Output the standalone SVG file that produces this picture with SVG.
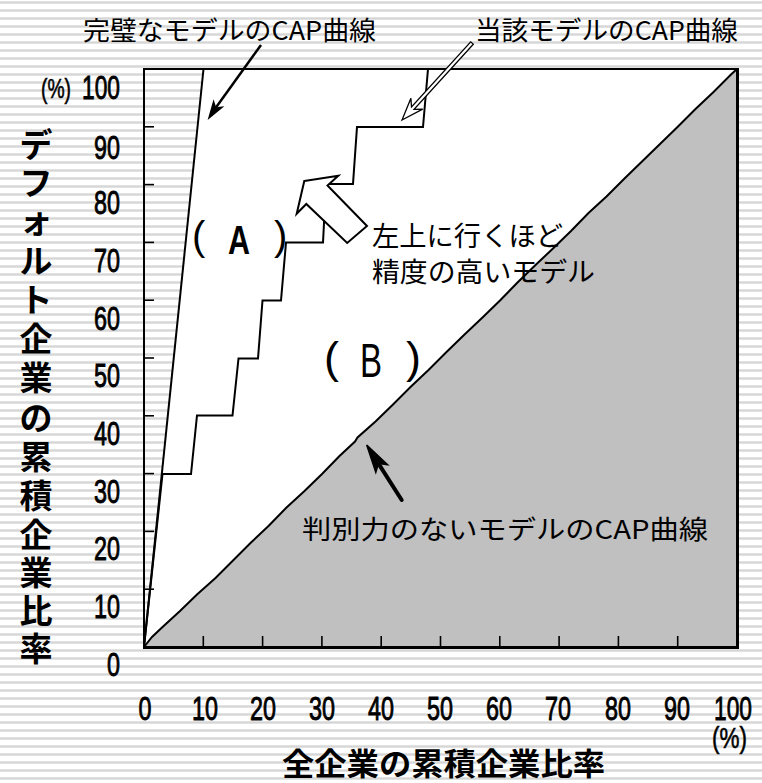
<svg xmlns="http://www.w3.org/2000/svg" width="762" height="783" viewBox="0 0 762 783">
<defs>
<pattern id="stripes" patternUnits="userSpaceOnUse" x="0" y="0" width="8" height="8">
<rect x="0" y="0" width="8" height="8" fill="#ffffff"/>
<rect x="0" y="1" width="8" height="3" fill="#e2e2e2"/>
<rect x="0" y="2" width="8" height="1" fill="#d6d6d6"/>
</pattern>
</defs>
<style>
.jp{font-family:"Noto Sans CJK JP","Noto Sans",sans-serif;fill:#000}
.num{font-family:"Liberation Sans",Arial,sans-serif;fill:#000;font-size:34px;stroke:#000;stroke-width:0.9}
.pct{font-family:"Liberation Sans",Arial,sans-serif;fill:#000;stroke:#000;stroke-width:0.6}
.ln{fill:none;stroke:#000;stroke-width:2;stroke-linejoin:miter}
.tick{stroke:#000;stroke-width:1.6}
</style>
<rect id="background" x="0" y="0" width="762" height="783" fill="url(#stripes)"/>

<g id="plot-area">
<polygon id="white-region" points="144,647 203.5,69 737,69 737,647" fill="#ffffff"/>
<polygon id="region-below-random" fill="#c0c0c0" points="144,647 152,637 162,627.5 180,611 197,594.5 215.5,578 233,560.5 251,542.5 268.5,526 286,508 304.5,491 322,474 339.5,456 355,441.5 357.5,437.5 375.5,421.5 393,404.5 411,386.5 428.5,370 446.5,352 464,335 482.5,317.5 500,300.5 517.5,282.5 535,265.5 553.5,248 571,231 588.5,213 606.5,196.5 624.5,178.5 642,161.5 660,144 677.5,127 695.5,109 713,92.5 731,74.5 737,69 737,647"/>
</g>

<g id="random-model-curve">
<polyline class="ln" points="144,647 152,637 162,627.5 180,611 197,594.5 215.5,578 233,560.5 251,542.5 268.5,526 286,508 304.5,491 322,474 339.5,456 355,441.5 357.5,437.5 375.5,421.5 393,404.5 411,386.5 428.5,370 446.5,352 464,335 482.5,317.5 500,300.5 517.5,282.5 535,265.5 553.5,248 571,231 588.5,213 606.5,196.5 624.5,178.5 642,161.5 660,144 677.5,127 695.5,109 713,92.5 731,74.5 737,69"/>
</g>

<g id="ticks">
<line class="tick" x1="203.3" y1="647" x2="203.3" y2="636"/>
<line class="tick" x1="262.6" y1="647" x2="262.6" y2="636"/>
<line class="tick" x1="321.9" y1="647" x2="321.9" y2="636"/>
<line class="tick" x1="381.2" y1="647" x2="381.2" y2="636"/>
<line class="tick" x1="440.5" y1="647" x2="440.5" y2="636"/>
<line class="tick" x1="499.8" y1="647" x2="499.8" y2="636"/>
<line class="tick" x1="559.1" y1="647" x2="559.1" y2="636"/>
<line class="tick" x1="618.4" y1="647" x2="618.4" y2="636"/>
<line class="tick" x1="677.7" y1="647" x2="677.7" y2="636"/>
<line class="tick" x1="144" y1="589.2" x2="154" y2="589.2"/>
<line class="tick" x1="144" y1="531.4" x2="154" y2="531.4"/>
<line class="tick" x1="144" y1="473.6" x2="154" y2="473.6"/>
<line class="tick" x1="144" y1="415.8" x2="154" y2="415.8"/>
<line class="tick" x1="144" y1="358" x2="154" y2="358"/>
<line class="tick" x1="144" y1="300.2" x2="154" y2="300.2"/>
<line class="tick" x1="144" y1="242.4" x2="154" y2="242.4"/>
<line class="tick" x1="144" y1="184.6" x2="154" y2="184.6"/>
<line class="tick" x1="144" y1="126.8" x2="154" y2="126.8"/>
</g>

<g id="frame">
<line x1="143" y1="69" x2="738" y2="69" stroke="#000" stroke-width="2"/>
<line x1="144" y1="68" x2="144" y2="648" stroke="#000" stroke-width="2"/>
<line x1="143" y1="647.5" x2="739" y2="647.5" stroke="#000" stroke-width="3"/>
<line x1="737.5" y1="68" x2="737.5" y2="649" stroke="#000" stroke-width="3"/>
</g>

<g id="perfect-model-curve">
<polyline class="ln" points="144,647 203.5,69"/>
</g>

<g id="current-model-curve">
<polyline class="ln" points="144,647 162.5,474 191,474 197,415.5 232.5,415.5 238.5,358.5 258,358.5 262.5,300.5 281,300.5 286,242.5 323,242.5 326,184 353,184 357,127 423,127 428,69"/>
</g>

<g id="connectors">
<g id="arrow-perfect">
<line x1="261" y1="45" x2="215.6" y2="108" stroke="#000" stroke-width="2.5"/>
<polygon points="209,118 222,107.3 215.6,108 213.6,101.9" fill="#000" stroke="#000" stroke-width="1.5" stroke-linejoin="miter"/>
</g>
<g id="arrow-current">
<polygon points="402,120 422.7,109.1 414.1,109.4 473.3,44.2 470.7,41.8 411.5,107 410.9,98.3" fill="#fff" stroke="#000" stroke-width="1.3" stroke-linejoin="miter"/>
</g>
<g id="arrow-random">
<line x1="401.7" y1="500" x2="378.5" y2="463.6" stroke="#000" stroke-width="4" stroke-linecap="round"/>
<polygon points="366.7,445 387.6,464.8 378.5,463.6 375.8,472.4" fill="#000" stroke="#000" stroke-width="1.5" stroke-linejoin="miter"/>
</g>
<g id="arrow-accuracy">
<polygon points="304.3,181 338.3,175.7 327.5,185.5 367,226 347.2,243 306.3,204 296.7,213.7" fill="#fff" stroke="#000" stroke-width="2" stroke-linejoin="miter"/>
</g>
</g>

<g id="label-perfect">
<text class="jp" x="83" y="40" font-size="26" textLength="293" lengthAdjust="spacingAndGlyphs">完璧なモデルのCAP曲線</text>
</g>
<g id="label-current">
<text class="jp" x="475" y="40" font-size="26" textLength="263" lengthAdjust="spacingAndGlyphs">当該モデルのCAP曲線</text>
</g>
<g id="label-accuracy">
<text class="jp" x="372" y="246" font-size="27" textLength="191" lengthAdjust="spacingAndGlyphs">左上に行くほど</text>
<text class="jp" x="372" y="282" font-size="27" textLength="223" lengthAdjust="spacingAndGlyphs">精度の高いモデル</text>
</g>
<g id="label-random">
<text class="jp" x="302" y="539" font-size="26" textLength="406" lengthAdjust="spacingAndGlyphs">判別力のないモデルのCAP曲線</text>
</g>

<g id="label-A">
<text font-family="Liberation Sans, Arial, sans-serif" fill="#000"><tspan x="192" y="250" font-size="40">(</tspan><tspan> </tspan><tspan x="228" y="254" font-size="40" font-weight="bold" textLength="22" lengthAdjust="spacingAndGlyphs">A</tspan><tspan> </tspan><tspan x="274" y="250" font-size="40">)</tspan></text>
</g>
<g id="label-B">
<text font-family="Liberation Sans, Arial, sans-serif" fill="#000"><tspan x="324" y="373" font-size="45">(</tspan><tspan> </tspan><tspan x="360" y="377" font-size="48" textLength="22" lengthAdjust="spacingAndGlyphs">B</tspan><tspan> </tspan><tspan x="406" y="373" font-size="45">)</tspan></text>
</g>

<g id="y-axis-labels">
<text class="pct" font-size="27" x="41" y="98" textLength="30" lengthAdjust="spacingAndGlyphs">(%)</text>
<text class="num" x="120" y="99" text-anchor="end" textLength="38" lengthAdjust="spacingAndGlyphs">100</text>
<text class="num" x="120" y="158.5" text-anchor="end" textLength="26" lengthAdjust="spacingAndGlyphs">90</text>
<text class="num" x="120" y="214" text-anchor="end" textLength="26" lengthAdjust="spacingAndGlyphs">80</text>
<text class="num" x="120" y="271.5" text-anchor="end" textLength="26" lengthAdjust="spacingAndGlyphs">70</text>
<text class="num" x="120" y="329.5" text-anchor="end" textLength="26" lengthAdjust="spacingAndGlyphs">60</text>
<text class="num" x="120" y="387" text-anchor="end" textLength="26" lengthAdjust="spacingAndGlyphs">50</text>
<text class="num" x="120" y="444.5" text-anchor="end" textLength="26" lengthAdjust="spacingAndGlyphs">40</text>
<text class="num" x="120" y="502.5" text-anchor="end" textLength="26" lengthAdjust="spacingAndGlyphs">30</text>
<text class="num" x="120" y="560" text-anchor="end" textLength="26" lengthAdjust="spacingAndGlyphs">20</text>
<text class="num" x="120" y="617.5" text-anchor="end" textLength="26" lengthAdjust="spacingAndGlyphs">10</text>
<text class="num" x="120" y="675.5" text-anchor="end" textLength="13" lengthAdjust="spacingAndGlyphs">0</text>
</g>

<g id="x-axis-labels">
<text class="num" x="145" y="720" text-anchor="middle" textLength="13" lengthAdjust="spacingAndGlyphs">0</text>
<text class="num" x="205" y="720" text-anchor="middle" textLength="26" lengthAdjust="spacingAndGlyphs">10</text>
<text class="num" x="263" y="720" text-anchor="middle" textLength="26" lengthAdjust="spacingAndGlyphs">20</text>
<text class="num" x="322" y="720" text-anchor="middle" textLength="26" lengthAdjust="spacingAndGlyphs">30</text>
<text class="num" x="381" y="720" text-anchor="middle" textLength="26" lengthAdjust="spacingAndGlyphs">40</text>
<text class="num" x="440" y="720" text-anchor="middle" textLength="26" lengthAdjust="spacingAndGlyphs">50</text>
<text class="num" x="499" y="720" text-anchor="middle" textLength="26" lengthAdjust="spacingAndGlyphs">60</text>
<text class="num" x="558" y="720" text-anchor="middle" textLength="26" lengthAdjust="spacingAndGlyphs">70</text>
<text class="num" x="618" y="720" text-anchor="middle" textLength="26" lengthAdjust="spacingAndGlyphs">80</text>
<text class="num" x="677" y="720" text-anchor="middle" textLength="26" lengthAdjust="spacingAndGlyphs">90</text>
<text class="num" x="733" y="720" text-anchor="middle" textLength="38" lengthAdjust="spacingAndGlyphs">100</text>
<text class="pct" font-size="30" x="712" y="748" textLength="35" lengthAdjust="spacingAndGlyphs">(%)</text>
</g>

<g id="x-axis-title">
<text class="jp" x="282" y="775" font-size="31" font-weight="bold" textLength="323" lengthAdjust="spacingAndGlyphs">全企業の累積企業比率</text>
</g>

<g id="y-axis-title">
<text class="jp" font-size="33" font-weight="bold" text-anchor="middle"><tspan x="36" y="157">デ</tspan><tspan x="36" y="195">フ</tspan><tspan x="36" y="233">ォ</tspan><tspan x="36" y="273">ル</tspan><tspan x="36" y="312">ト</tspan><tspan x="36" y="351">企</tspan><tspan x="36" y="390">業</tspan><tspan x="36" y="430">の</tspan><tspan x="36" y="469">累</tspan><tspan x="36" y="508">積</tspan><tspan x="36" y="547">企</tspan><tspan x="36" y="585">業</tspan><tspan x="36" y="623">比</tspan><tspan x="36" y="661">率</tspan></text>
</g>
</svg>
